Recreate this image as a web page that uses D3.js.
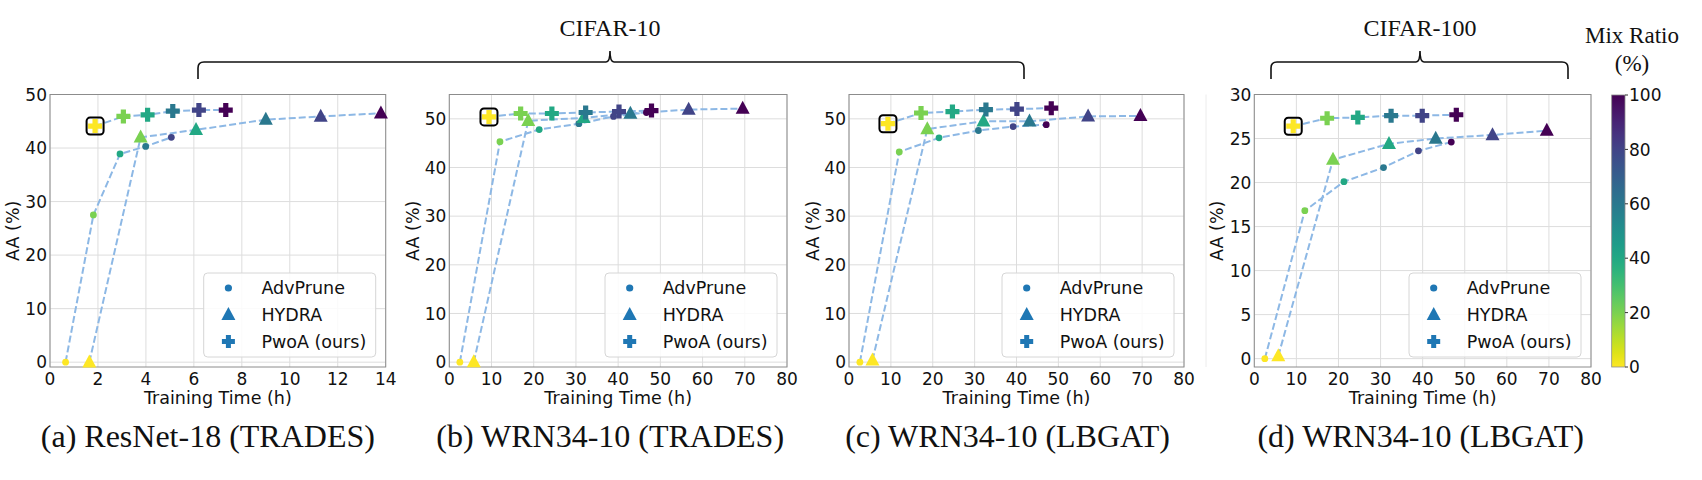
<!DOCTYPE html>
<html>
<head>
<meta charset="UTF-8">
<title>AA vs training time</title>
<script src="https://d3js.org/d3.v7.min.js"></script>
<style>
  body { margin: 0; background: #fff; }
  text { font-family: "DejaVu Sans", sans-serif; }
  .serif { font-family: "Liberation Serif", "Times New Roman", serif; }
</style>
</head>
<body>
<svg id="chart"></svg>
<script>
const width = 1702, height = 480;

// mix ratio (%) of each point, in order
const mixAll = [0, 20, 40, 60, 80, 100];
const mixNoLast = [0, 20, 40, 60, 80];

// (a) ResNet-18 (TRADES)
const advTimeA = [0.65, 1.81, 2.92, 3.99, 5.06];
const advAccA  = [0, 27.5, 38.9, 40.3, 42.0];
const hydTimeA = [1.64, 3.78, 6.09, 9.0, 11.29, 13.8];
const hydAccA  = [0, 42.0, 43.4, 45.3, 45.9, 46.5];
const pwoTimeA = [1.88, 3.06, 4.07, 5.12, 6.21, 7.33];
const pwoAccA  = [44.1, 45.9, 46.2, 46.9, 47.1, 47.1];

// (b) WRN34-10 (TRADES)
const advTimeB = [2.5, 12.0, 21.3, 30.7, 38.9, 46.7];
const advAccB  = [0, 45.3, 47.8, 49.0, 50.5, 51.3];
const hydTimeB = [5.8, 18.7, 31.8, 42.9, 56.7, 69.5];
const hydAccB  = [0, 49.6, 50.2, 51.1, 51.9, 52.1];
const pwoTimeB = [9.4, 16.9, 24.3, 32.3, 40.2, 47.9];
const pwoAccB  = [50.4, 51.1, 51.1, 51.3, 51.5, 51.7];

// (c) WRN34-10 (LBGAT), CIFAR-10
const advTimeC = [2.6, 12.0, 21.5, 30.9, 39.2, 47.1];
const advAccC  = [0, 43.2, 46.1, 47.6, 48.4, 48.8];
const hydTimeC = [5.6, 18.7, 32.1, 43.1, 57.1, 69.6];
const hydAccC  = [0.4, 47.9, 49.5, 49.5, 50.5, 50.6];
const pwoTimeC = [9.3, 17.2, 24.7, 32.7, 40.1, 48.3];
const pwoAccC  = [49.0, 51.2, 51.5, 51.9, 52.0, 52.2];

// (d) WRN34-10 (LBGAT), CIFAR-100
const advTimeD = [2.5, 12.0, 21.3, 30.7, 39.0, 46.8];
const advAccD  = [0, 16.8, 20.1, 21.7, 23.6, 24.6];
const hydTimeD = [5.7, 18.7, 32.0, 43.1, 56.6, 69.5];
const hydAccD  = [0.3, 22.6, 24.4, 25.0, 25.4, 25.9];
const pwoTimeD = [9.25, 17.3, 24.6, 32.5, 39.9, 48.0];
const pwoAccD  = [26.4, 27.3, 27.4, 27.6, 27.6, 27.7];

const xTicksA = [0, 2, 4, 6, 8, 10, 12, 14];
const xTicksW = [0, 10, 20, 30, 40, 50, 60, 70, 80];
const yTicks50 = [0, 10, 20, 30, 40, 50];
const yTicks30 = [0, 5, 10, 15, 20, 25, 30];
const cbarTicks = [0, 20, 40, 60, 80, 100];

const captions = ["(a) ResNet-18 (TRADES)", "(b) WRN34-10 (TRADES)", "(c) WRN34-10 (LBGAT)", "(d) WRN34-10 (LBGAT)"];
const legendNames = ["AdvPrune", "HYDRA", "PwoA (ours)"];

const panels = [
  {x0: 50, x1: 385.7, xDom: [0, 14], yDom: [-0.9, 50], xt: xTicksA, yt: yTicks50, cap: captions[0], capDx: -10, ylx: 12.5,
   adv: [advTimeA, advAccA, mixNoLast], hyd: [hydTimeA, hydAccA, mixAll], pwo: [pwoTimeA, pwoAccA, mixAll]},
  {x0: 449.3, x1: 787, xDom: [0, 80], yDom: [-1, 55], xt: xTicksW, yt: yTicks50, cap: captions[1], capDx: -8, ylx: 413,
   adv: [advTimeB, advAccB, mixAll], hyd: [hydTimeB, hydAccB, mixAll], pwo: [pwoTimeB, pwoAccB, mixAll]},
  {x0: 849, x1: 1184, xDom: [0, 80], yDom: [-1, 55], xt: xTicksW, yt: yTicks50, cap: captions[2], capDx: -9, ylx: 813,
   adv: [advTimeC, advAccC, mixAll], hyd: [hydTimeC, hydAccC, mixAll], pwo: [pwoTimeC, pwoAccC, mixAll]},
  {x0: 1254.3, x1: 1591, xDom: [0, 80], yDom: [-0.95, 30], xt: xTicksW, yt: yTicks30, cap: captions[3], capDx: -2, ylx: 1217,
   adv: [advTimeD, advAccD, mixAll], hyd: [hydTimeD, hydAccD, mixAll], pwo: [pwoTimeD, pwoAccD, mixAll]}
];

const plotTop = 94.5, plotBottom = 367;
const mixColor = r => d3.interpolateViridis(1 - r / 100);
const lineColor = "#8db8e5";
const legendBlue = "#1f77b4";

const svg = d3.select("#chart").attr("width", width).attr("height", height);
svg.append("rect").attr("width", width).attr("height", height).attr("fill", "#fff");

// marker shapes
const plusPath = (s, w) => {
  const a = s / 2, b = w / 2;
  return `M${-b},${-a}H${b}V${-b}H${a}V${b}H${b}V${a}H${-b}V${b}H${-a}V${-b}H${-b}Z`;
};
const triPath = (w, h) => `M0,${-h * 0.6}L${w / 2},${h * 0.4}L${-w / 2},${h * 0.4}Z`;

panels.forEach(p => {
  const x = d3.scaleLinear().domain(p.xDom).range([p.x0, p.x1]);
  const y = d3.scaleLinear().domain(p.yDom).range([plotBottom, plotTop]);
  const g = svg.append("g");

  // grid
  g.selectAll(".gx").data(p.xt).enter().append("line")
    .attr("x1", d => x(d)).attr("x2", d => x(d)).attr("y1", plotTop).attr("y2", plotBottom)
    .attr("stroke", "#dddddd").attr("stroke-width", 1);
  g.selectAll(".gy").data(p.yt).enter().append("line")
    .attr("x1", p.x0).attr("x2", p.x1).attr("y1", d => y(d)).attr("y2", d => y(d))
    .attr("stroke", "#dddddd").attr("stroke-width", 1);

  // frame
  g.append("rect").attr("x", p.x0).attr("y", plotTop).attr("width", p.x1 - p.x0).attr("height", plotBottom - plotTop)
    .attr("fill", "none").attr("stroke", "#8c8c8c").attr("stroke-width", 1);

  // tick labels
  g.selectAll(".xl").data(p.xt).enter().append("text")
    .attr("x", d => x(d)).attr("y", 385).attr("text-anchor", "middle")
    .attr("font-size", "17px").attr("fill", "#111").text(d => d);
  g.selectAll(".yl").data(p.yt).enter().append("text")
    .attr("x", p.x0 - 3).attr("y", d => y(d)).attr("dy", "0.36em").attr("text-anchor", "end")
    .attr("font-size", "17px").attr("fill", "#111").text(d => d);

  g.append("text").attr("x", (p.x0 + p.x1) / 2).attr("y", 404).attr("text-anchor", "middle")
    .attr("font-size", "17.5px").attr("fill", "#111").text("Training Time (h)");
  g.append("text").attr("transform", `translate(${p.ylx},${(plotTop + plotBottom) / 2}) rotate(-90)`)
    .attr("dy", "0.36em").attr("text-anchor", "middle")
    .attr("font-size", "17.5px").attr("fill", "#111").text("AA (%)");

  g.append("text").attr("class", "serif").attr("x", (p.x0 + p.x1) / 2 + p.capDx).attr("y", 447)
    .attr("text-anchor", "middle").attr("font-size", "32px").attr("fill", "#111").text(p.cap);

  // dashed lines
  const line = d3.line().x(d => x(d[0])).y(d => y(d[1]));
  [p.adv, p.hyd, p.pwo].forEach(s => {
    const pts = s[0].map((t, i) => [t, s[1][i]]);
    g.append("path").attr("d", line(pts)).attr("fill", "none")
      .attr("stroke", lineColor).attr("stroke-width", 2).attr("stroke-dasharray", "7,3");
  });

  // legend box (drawn under the markers)
  const lw = 172, lh = 84;
  const lx = p.x1 - 10 - lw, ly = plotBottom - 10 - lh;
  const lg = g.append("g");
  lg.append("rect").attr("x", lx).attr("y", ly).attr("width", lw).attr("height", lh).attr("rx", 4)
    .attr("fill", "#fff").attr("fill-opacity", 0.85).attr("stroke", "#d6d6d6");
  const rows = [ly + 15, ly + 41.7, ly + 68.4];
  lg.append("circle").attr("cx", lx + 24.7).attr("cy", rows[0]).attr("r", 3.6).attr("fill", legendBlue);
  lg.append("path").attr("d", triPath(14, 13)).attr("transform", `translate(${lx + 24.7},${rows[1]})`).attr("fill", legendBlue);
  lg.append("path").attr("d", plusPath(13, 5)).attr("transform", `translate(${lx + 24.7},${rows[2]})`).attr("fill", legendBlue);
  legendNames.forEach((n, i) => {
    lg.append("text").attr("x", lx + 57.7).attr("y", rows[i]).attr("dy", "0.36em")
      .attr("font-size", "17.5px").attr("fill", "#111").text(n);
  });

  // markers
  g.selectAll(".adv").data(p.adv[0]).enter().append("circle")
    .attr("cx", d => x(d)).attr("cy", (d, i) => y(p.adv[1][i])).attr("r", 3.4)
    .attr("fill", (d, i) => mixColor(p.adv[2][i]));
  g.selectAll(".hyd").data(p.hyd[0]).enter().append("path")
    .attr("d", triPath(14, 13))
    .attr("transform", (d, i) => `translate(${x(d)},${y(p.hyd[1][i])})`)
    .attr("fill", (d, i) => mixColor(p.hyd[2][i]));
  g.selectAll(".pwo").data(p.pwo[0]).enter().append("path")
    .attr("d", plusPath(14, 5.2))
    .attr("transform", (d, i) => `translate(${x(d)},${y(p.pwo[1][i])})`)
    .attr("fill", (d, i) => mixColor(p.pwo[2][i]));

  // highlight box around PwoA at 0% mix
  g.append("rect").attr("x", x(p.pwo[0][0]) - 8.5).attr("y", y(p.pwo[1][0]) - 8.5)
    .attr("width", 17).attr("height", 17).attr("rx", 3.5)
    .attr("fill", "none").attr("stroke", "#000").attr("stroke-width", 2);
});

// faint separator between CIFAR-10 and CIFAR-100 panels
svg.append("line").attr("x1", 1206).attr("x2", 1206).attr("y1", plotTop).attr("y2", plotBottom)
  .attr("stroke", "#ececec").attr("stroke-width", 1);

// braces
function brace(x0, x1, tip) {
  const yl = 62, ye = 79, yt = 51, r = 6;
  return `M${x0},${ye} L${x0},${yl + r} Q${x0},${yl} ${x0 + r},${yl} L${tip - 4},${yl} Q${tip},${yl} ${tip},${yt}` +
         ` Q${tip},${yl} ${tip + 4},${yl} L${x1 - r},${yl} Q${x1},${yl} ${x1},${yl + r} L${x1},${ye}`;
}
svg.append("path").attr("d", brace(198, 1024, 610)).attr("fill", "none").attr("stroke", "#111").attr("stroke-width", 1.6);
svg.append("path").attr("d", brace(1271, 1568, 1420)).attr("fill", "none").attr("stroke", "#111").attr("stroke-width", 1.6);
svg.append("text").attr("class", "serif").attr("x", 610).attr("y", 36).attr("text-anchor", "middle")
  .attr("font-size", "24px").attr("fill", "#111").text("CIFAR-10");
svg.append("text").attr("class", "serif").attr("x", 1420).attr("y", 36).attr("text-anchor", "middle")
  .attr("font-size", "24px").attr("fill", "#111").text("CIFAR-100");

// colorbar
const cbX = 1611.7, cbW = 13.3;
const cbY = d3.scaleLinear().domain([0, 100]).range([367, 95]);
const defs = svg.append("defs");
const grad = defs.append("linearGradient").attr("id", "vir").attr("x1", 0).attr("y1", 1).attr("x2", 0).attr("y2", 0);
d3.range(0, 1.0001, 0.05).forEach(t => {
  grad.append("stop").attr("offset", t).attr("stop-color", mixColor(t * 100));
});
svg.append("rect").attr("x", cbX).attr("y", cbY(100)).attr("width", cbW).attr("height", cbY(0) - cbY(100))
  .attr("fill", "url(#vir)").attr("stroke", "#8c8c8c").attr("stroke-width", 0.8);
svg.selectAll(".cbt").data(cbarTicks).enter().append("line")
  .attr("x1", cbX + cbW).attr("x2", cbX + cbW + 3).attr("y1", d => cbY(d)).attr("y2", d => cbY(d))
  .attr("stroke", "#333");
svg.selectAll(".cbl").data(cbarTicks).enter().append("text")
  .attr("x", cbX + cbW + 4).attr("y", d => cbY(d)).attr("dy", "0.36em")
  .attr("font-size", "17px").attr("fill", "#111").text(d => d);
svg.append("text").attr("class", "serif").attr("x", 1632).attr("y", 42.5).attr("text-anchor", "middle")
  .attr("font-size", "23px").attr("fill", "#111").text("Mix Ratio");
svg.append("text").attr("class", "serif").attr("x", 1632).attr("y", 71).attr("text-anchor", "middle")
  .attr("font-size", "23px").attr("fill", "#111").text("(%)");
</script>
</body>
</html>
